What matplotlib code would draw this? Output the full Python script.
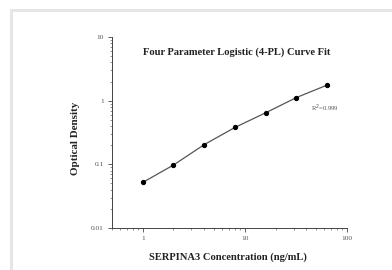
import matplotlib
matplotlib.use("Agg")
import matplotlib.pyplot as plt
from matplotlib.patches import Rectangle
from matplotlib.ticker import LogLocator, NullFormatter, FixedLocator, FixedFormatter

conc = [1, 2, 4, 8, 16, 32, 64]
od = [0.052, 0.0975, 0.204, 0.38, 0.646, 1.12, 1.76]
xticks = [1, 10, 100]
xtick_labels = ["1", "10", "100"]
yticks = [0.01, 0.1, 1, 10]
ytick_labels = ["0.01", "0.1", "1", "10"]

W, H = 392, 270
fig = plt.figure(figsize=(W / 100, H / 100), dpi=100)
fig.patch.set_facecolor("white")

# light gray frame (left and top edges)
fig.patches.append(Rectangle((11 / W, -0.1), 1.2, (H - 10) / H + 0.1,
                             transform=fig.transFigure, fill=False,
                             edgecolor="#e6e6e6", linewidth=2.2))

left, right = 112 / W, 347 / W
bottom, top = 1 - 228 / H, 1 - 37 / H
ax = fig.add_axes([left, bottom, right - left, top - bottom])

ax.plot(conc, od, color="#555555", linewidth=0.9, zorder=2)
ax.plot(conc, od, "o", color="black", markersize=2.8, zorder=3)

ax.set_xscale("log")
ax.set_yscale("log")
ax.set_xlim(0.5, 100)
ax.set_ylim(0.01, 10)

for s in ["top", "right"]:
    ax.spines[s].set_visible(False)
for s in ["left", "bottom"]:
    ax.spines[s].set_color("#444444")
    ax.spines[s].set_linewidth(0.7)

serif = "Liberation Serif"
ax.xaxis.set_major_locator(FixedLocator(xticks))
ax.xaxis.set_major_formatter(FixedFormatter(xtick_labels))
ax.yaxis.set_major_locator(FixedLocator(yticks))
ax.yaxis.set_major_formatter(FixedFormatter(ytick_labels))
ax.xaxis.set_minor_locator(LogLocator(base=10, subs=range(2, 10)))
ax.yaxis.set_minor_locator(LogLocator(base=10, subs=range(2, 10)))
ax.xaxis.set_minor_formatter(NullFormatter())
ax.yaxis.set_minor_formatter(NullFormatter())
ax.tick_params(which="major", length=3, width=0.6, color="#444444",
               labelsize=5.3, labelcolor="#555555", pad=3)
ax.tick_params(which="minor", length=1.6, width=0.5, color="#666666")
for lbl in ax.get_xticklabels() + ax.get_yticklabels():
    lbl.set_fontfamily(serif)

ax.set_xlabel("SERPINA3 Concentration (ng/mL)", fontfamily=serif,
              fontweight="bold", fontsize=7.6, color="#222222")
ax.set_ylabel("Optical Density", fontfamily=serif, fontweight="bold",
              fontsize=7.9, color="#222222")
ax.xaxis.set_label_coords((228 - 112) / 235, -(257 - 228) / 191, transform=ax.transAxes)
ax.xaxis.label.set_va("center")
ax.yaxis.set_label_coords(-(112 - 75) / 235, (228 - 138) / 191, transform=ax.transAxes)
ax.yaxis.label.set_va("center")

fig.text(237 / W, 1 - 52 / H, "Four Parameter Logistic (4-PL) Curve Fit",
         ha="center", va="center", fontfamily=serif, fontweight="bold",
         fontsize=7.6, color="#222222")
fig.text(311 / W, 1 - 108 / H, "R$^2$=0.999", ha="left", va="center",
         fontfamily=serif, fontsize=4.8, color="#555555")

fig.savefig("out.png", dpi=100, facecolor="white")
